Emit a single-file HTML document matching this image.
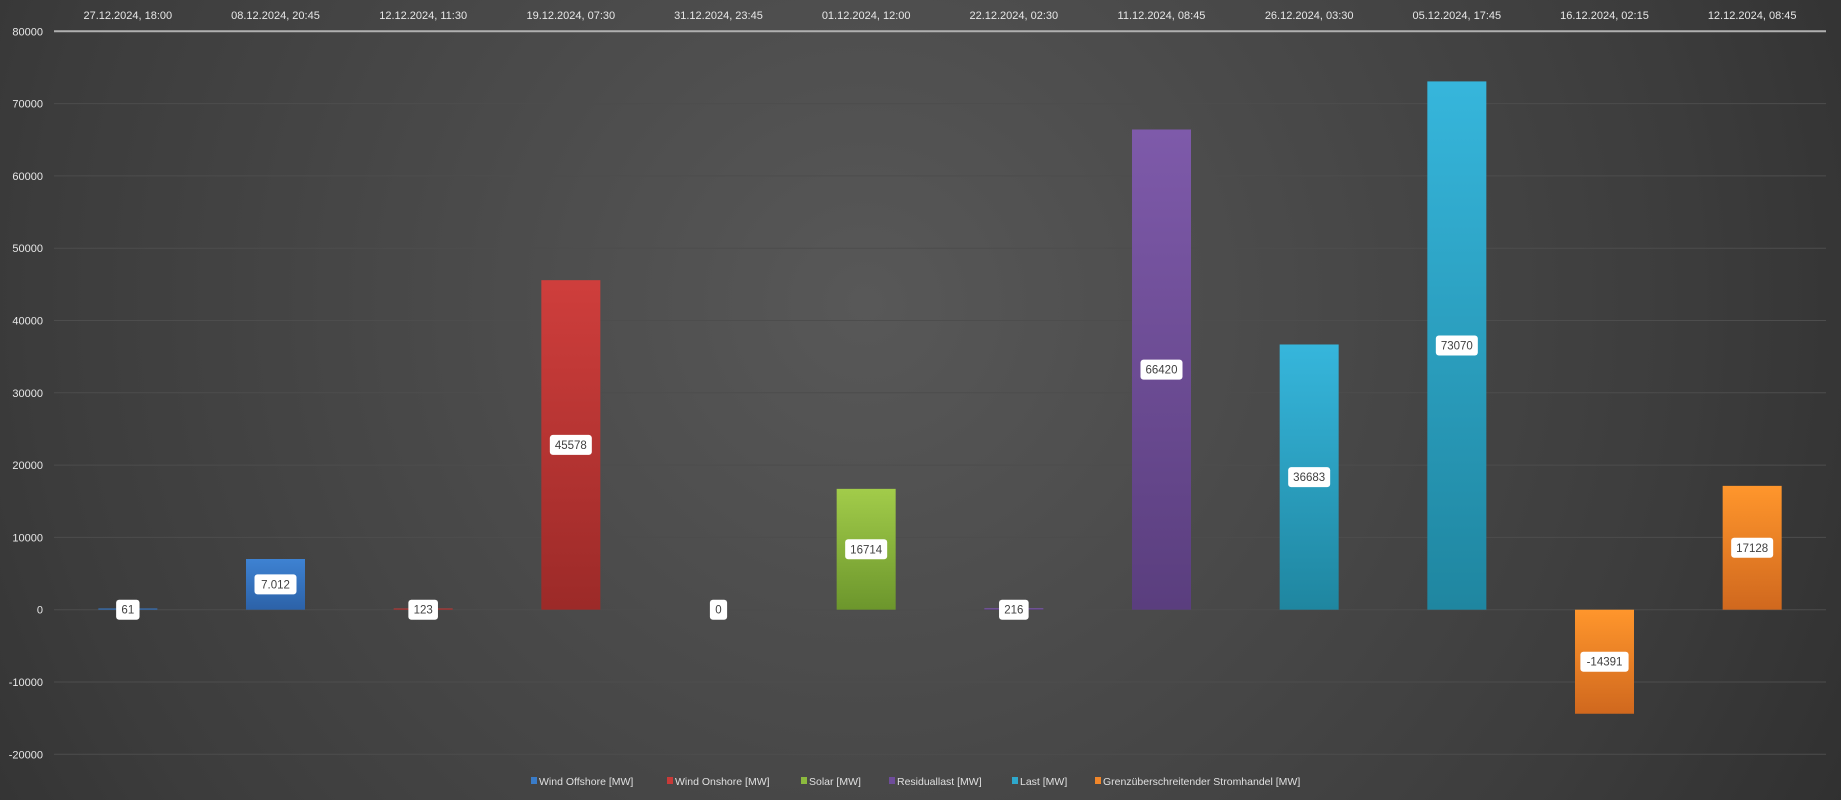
<!DOCTYPE html>
<html><head><meta charset="utf-8"><style>
html,body{margin:0;padding:0;background:#2a2a2a;}
svg{display:block;font-family:"Liberation Sans",sans-serif;}
</style></head><body>
<svg id="s" width="1841" height="800" viewBox="0 0 1841 800" xmlns="http://www.w3.org/2000/svg">
<defs>
<radialGradient id="bg" cx="0.47" cy="0.38" r="0.75" gradientTransform="translate(0.47 0.38) scale(1 2.3) translate(-0.47 -0.38)">
<stop offset="0" stop-color="#585858"/><stop offset="0.6" stop-color="#3c3c3c"/><stop offset="1" stop-color="#242424"/></radialGradient>
<linearGradient id="g0" x1="0" y1="0" x2="0" y2="1"><stop offset="0" stop-color="#3e82d2"/><stop offset="1" stop-color="#2c62a8"/></linearGradient>
<linearGradient id="g1" x1="0" y1="0" x2="0" y2="1"><stop offset="0" stop-color="#cf3e3c"/><stop offset="1" stop-color="#9c2a28"/></linearGradient>
<linearGradient id="g2" x1="0" y1="0" x2="0" y2="1"><stop offset="0" stop-color="#a2cc4a"/><stop offset="1" stop-color="#6c962c"/></linearGradient>
<linearGradient id="g3" x1="0" y1="0" x2="0" y2="1"><stop offset="0" stop-color="#7e5aaa"/><stop offset="1" stop-color="#5a3e7e"/></linearGradient>
<linearGradient id="g4" x1="0" y1="0" x2="0" y2="1"><stop offset="0" stop-color="#36b6dc"/><stop offset="1" stop-color="#1f86a0"/></linearGradient>
<linearGradient id="g5" x1="0" y1="0" x2="0" y2="1"><stop offset="0" stop-color="#ff962c"/><stop offset="1" stop-color="#d0681e"/></linearGradient>
</defs>
<rect width="1841" height="800" fill="url(#bg)"/>
<g id="grid"></g>
<g id="bars"></g>
<g id="lbl"></g>
</svg>
<script>
const NS="http://www.w3.org/2000/svg";
function el(p,t,a,txt){const e=document.createElementNS(NS,t);for(const k in a)e.setAttribute(k,a[k]);if(txt!==undefined)e.textContent=txt;p.appendChild(e);return e;}
const Z=609.7,K=0.00723,L=54,R=1826,W=(R-L)/12;
const grid=document.getElementById('grid'),bars=document.getElementById('bars'),lbl=document.getElementById('lbl');
for(let v=-20000;v<=80000;v+=10000){const y=Z-v*K;
 el(grid,'line',{x1:L,x2:R,y1:y,y2:y,stroke:v==80000?'#b0b0b0':'#4d4d4d','stroke-width':v==80000?2:1});
 el(grid,'text',{x:43,y:y+4,'text-anchor':'end','font-size':11,fill:'#e8e8e8'},String(v));}
const cats=["27.12.2024, 18:00","08.12.2024, 20:45","12.12.2024, 11:30","19.12.2024, 07:30","31.12.2024, 23:45","01.12.2024, 12:00","22.12.2024, 02:30","11.12.2024, 08:45","26.12.2024, 03:30","05.12.2024, 17:45","16.12.2024, 02:15","12.12.2024, 08:45"];
const vals=[61,7012,123,45578,0,16714,216,66420,36683,73070,-14391,17128];
const labs=["61","7.012","123","45578","0","16714","216","66420","36683","73070","-14391","17128"];
for(let i=0;i<12;i++){const c=L+W*(i+0.5);
 el(grid,'text',{x:c,y:19,'text-anchor':'middle','font-size':11,fill:'#e8e8e8'},cats[i]);
 const v=vals[i],g='url(#g'+Math.floor(i/2)+')';
 let y=v>=0?Z-v*K:Z,h=Math.max(Math.abs(v)*K,1.2);if(v>=0&&h===1.2)y=Z-1.2;
 if(v!==0)el(bars,'rect',{x:c-29.5,y:y,width:59,height:h,fill:g});
 const my=Math.abs(v)*K<20?Z:y+h/2;
 const tw=labs[i].length*6.2+11;
 el(lbl,'rect',{x:c-tw/2,y:my-10,width:tw,height:20,rx:3,fill:'#fff'});
 el(lbl,'text',{x:c,y:my+4,'text-anchor':'middle','font-size':11.5,fill:'#404040'},labs[i]);}
const leg=[[531,'Wind Offshore [MW]','#3a7cc8'],[667,'Wind Onshore [MW]','#c83a38'],[801,'Solar [MW]','#8cba3e'],[889,'Residuallast [MW]','#6e4c9a'],[1012,'Last [MW]','#2ea8cc'],[1095,'Grenzüberschreitender Stromhandel [MW]','#f0862a']];
for(const [x,t,c] of leg){el(lbl,'rect',{x:x,y:777,width:6,height:7,fill:c});
 el(lbl,'text',{x:x+8,y:785,'font-size':10.5,fill:'#e0e0e0'},t);}
</script>
</body></html>
